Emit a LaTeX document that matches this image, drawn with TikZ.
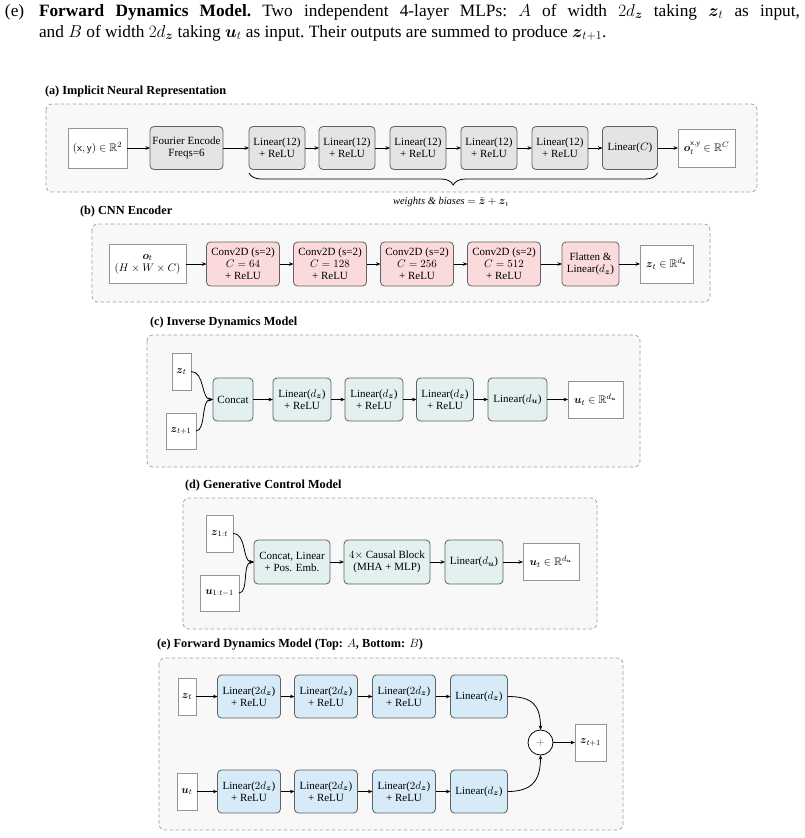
\documentclass[tikz,border=0pt]{standalone}
\usepackage{amsmath,amssymb}
\usepackage{fontspec}
\setmainfont{Liberation Serif}
\usetikzlibrary{arrows.meta,decorations.pathreplacing}
\definecolor{cgray}{HTML}{E4E4E4}
\definecolor{cpink}{HTML}{FADADB}
\definecolor{cteal}{HTML}{E3F0F0}
\definecolor{cblue}{HTML}{D6EBF7}
\definecolor{cframe}{HTML}{F8F8F8}
\newcommand\fsz{\fontsize{11}{12}\selectfont}
\newcommand\hdz{\fontsize{12.3}{14}\selectfont\bfseries}
\newcommand\cpz{\fontsize{17.3}{20}\selectfont\frenchspacing}
\newcommand\bz{\boldsymbol{z}}
\newcommand\bu{\boldsymbol{u}}
\begin{document}
\begin{tikzpicture}[x=1pt,y=-1pt,
  every node/.style={inner sep=0pt,outer sep=0pt},
  frame/.style={draw=black!38,dash pattern=on 3.5pt off 2.5pt,fill=cframe,rounded corners=6pt,line width=0.7pt},
  blk/.style={draw=black!62,rounded corners=4pt,line width=0.8pt,align=center,font=\fsz,minimum height=43},
  io/.style={draw=black!42,fill=white,line width=0.9pt,align=center,font=\fsz,minimum height=38},
  gry/.style={blk,fill=cgray},
  pnk/.style={blk,fill=cpink},
  tea/.style={blk,fill=cteal},
  blu/.style={blk,fill=cblue},
  arr/.style={-{Stealth[length=4.5pt,width=3.6pt]},line width=0.8pt},
  head/.style={anchor=west,font=\hdz}]
\useasboundingbox (0,0) rectangle (805,838);

% caption
\node[anchor=west,font=\cpz] (clab) at (5,12) {(e)};
\node[anchor=west,font=\cpz] (cl1) at (39,12) {\hbox to 761pt{\textbf{Forward Dynamics Model.} Two independent 4-layer MLPs: $A$ of width $2d_{\bz}$ taking $\bz_t$ as input,}};
\node[anchor=west,font=\cpz] (cl2) at (39,33) {and $B$ of width $2d_{\bz}$ taking $\bu_t$ as input. Their outputs are summed to produce $\bz_{t+1}$.};

% frames
\draw[frame] (46,104) rectangle (757,192);
\draw[frame] (92,224) rectangle (710,302);
\draw[frame] (147,335) rectangle (640,467);
\draw[frame] (183,498) rectangle (597,629);
\draw[frame] (159,658) rectangle (623,830);

% headings
\node[head] (ha) at (45,92) {(a) Implicit Neural Representation};
\node[head] (hb) at (80,212) {(b) CNN Encoder};
\node[head] (hc) at (150,323) {(c) Inverse Dynamics Model};
\node[head] (hd) at (185,486) {(d) Generative Control Model};
\node[head] (he) at (157,645) {(e) Forward Dynamics Model (Top: $A$, Bottom: $B$)};

% (a)
\node[io,minimum width=59,minimum height=40] (a0) at (97.5,148) {$(\mathsf{x},\mathsf{y})\in\mathbb{R}^2$};
\node[gry,minimum width=73] (a1) at (186.5,148) {Fourier Encode\\Freqs=6};
\node[gry,minimum width=56] (a2) at (277,148) {Linear(12)\\+ ReLU};
\node[gry,minimum width=56] (a3) at (347,148) {Linear(12)\\+ ReLU};
\node[gry,minimum width=56] (a4) at (418,148) {Linear(12)\\+ ReLU};
\node[gry,minimum width=56] (a5) at (489,148) {Linear(12)\\+ ReLU};
\node[gry,minimum width=56] (a6) at (560,148) {Linear(12)\\+ ReLU};
\node[gry,minimum width=55] (a7) at (630,148) {Linear($C$)};
\node[io,minimum width=57] (a8) at (706.5,148) {$\boldsymbol{o}_t^{\mathsf{x},\mathsf{y}}\in\mathbb{R}^C$};
\foreach \i/\j in {a0/a1,a1/a2,a2/a3,a3/a4,a4/a5,a5/a6,a6/a7,a7/a8} \draw[arr] (\i) -- (\j);
\coordinate (brR) at (657.5,173);
\coordinate (brL) at (249,173);
\draw[line width=0.8pt,decorate,decoration={brace,amplitude=12pt}] (brR) -- (brL);
\node[font=\fontsize{10.5}{12}\selectfont\itshape] (wb) at (451,202) {weights \& biases $=\bar{\bz}+\bz_t$};

% (b)
\node[io,minimum width=77,minimum height=39] (b0) at (147.5,264) {$\boldsymbol{o}_t$\\$(H\times W\times C)$};
\node[pnk,minimum width=73,minimum height=44] (b1) at (243,264) {Conv2D (s=2)\\$C=64$\\+ ReLU};
\node[pnk,minimum width=73,minimum height=44] (b2) at (330,264) {Conv2D (s=2)\\$C=128$\\+ ReLU};
\node[pnk,minimum width=73,minimum height=44] (b3) at (417,264) {Conv2D (s=2)\\$C=256$\\+ ReLU};
\node[pnk,minimum width=73,minimum height=44] (b4) at (504,264) {Conv2D (s=2)\\$C=512$\\+ ReLU};
\node[pnk,minimum width=57,minimum height=44] (b5) at (590.5,264) {Flatten \&\\Linear($d_{\bz}$)};
\node[io,minimum width=53] (b6) at (666.5,264) {$\bz_t\in\mathbb{R}^{d_{\bz}}$};
\foreach \i/\j in {b0/b1,b1/b2,b2/b3,b3/b4,b4/b5,b5/b6} \draw[arr] (\i) -- (\j);

% (c)
\node[io,minimum width=19,minimum height=37] (c0) at (181.5,371.5) {$\bz_t$};
\node[io,minimum width=30,minimum height=36] (c1) at (181,431) {$\bz_{t+1}$};
\node[tea,minimum width=40] (c2) at (233,399.5) {Concat};
\node[tea,minimum width=58] (c3) at (302,399.5) {Linear($d_{\bz}$)\\+ ReLU};
\node[tea,minimum width=58] (c4) at (374,399.5) {Linear($d_{\bz}$)\\+ ReLU};
\node[tea,minimum width=57] (c5) at (445,399.5) {Linear($d_{\bz}$)\\+ ReLU};
\node[tea,minimum width=59] (c6) at (517.5,399.5) {Linear($d_{\bu}$)};
\node[io,minimum width=55,minimum height=37] (c7) at (595.5,399.5) {$\bu_t\in\mathbb{R}^{d_{\bu}}$};
\draw[arr] (c0.east) .. controls +(14,0) and +(-12,0) .. (c2.west);
\draw[arr] (c1.east) .. controls +(10,0) and +(-12,0) .. (c2.west);
\foreach \i/\j in {c2/c3,c3/c4,c4/c5,c5/c6,c6/c7} \draw[arr] (\i) -- (\j);

% (d)
\node[io,minimum width=27,minimum height=37] (d0) at (219.5,533.5) {$\bz_{1:t}$};
\node[io,minimum width=39,minimum height=36] (d1) at (219.5,593) {$\bu_{1:t-1}$};
\node[tea,minimum width=76,minimum height=44] (d2) at (292,562) {Concat, Linear\\+ Pos. Emb.};
\node[tea,minimum width=86,minimum height=44] (d3) at (387,562) {$4\times$ Causal Block\\(MHA + MLP)};
\node[tea,minimum width=58,minimum height=44] (d4) at (474,562) {Linear($d_{\bu}$)};
\node[io,minimum width=56,minimum height=37] (d5) at (551,562) {$\bu_t\in\mathbb{R}^{d_{\bu}}$};
\draw[arr] (d0.east) .. controls +(14,0) and +(-12,0) .. (d2.west);
\draw[arr] (d1.east) .. controls +(10,0) and +(-12,0) .. (d2.west);
\foreach \i/\j in {d2/d3,d3/d4,d4/d5} \draw[arr] (\i) -- (\j);

% (e)
\node[io,minimum width=18,minimum height=37] (e0) at (187,696.5) {$\bz_t$};
\node[blu,minimum width=63] (e1) at (249,696.5) {Linear($2d_{\bz}$)\\+ ReLU};
\node[blu,minimum width=63] (e2) at (326,696.5) {Linear($2d_{\bz}$)\\+ ReLU};
\node[blu,minimum width=63] (e3) at (404,696.5) {Linear($2d_{\bz}$)\\+ ReLU};
\node[blu,minimum width=57] (e4) at (479,696.5) {Linear($d_{\bz}$)};
\node[io,minimum width=20,minimum height=37] (f0) at (187,791.5) {$\bu_t$};
\node[blu,minimum width=63] (f1) at (249,791.5) {Linear($2d_{\bz}$)\\+ ReLU};
\node[blu,minimum width=63] (f2) at (326,791.5) {Linear($2d_{\bz}$)\\+ ReLU};
\node[blu,minimum width=63] (f3) at (404,791.5) {Linear($2d_{\bz}$)\\+ ReLU};
\node[blu,minimum width=57] (f4) at (479,791.5) {Linear($d_{\bz}$)};
\node[circle,draw=black,line width=0.8pt,fill=white,minimum size=25,font=\fsz] (plus) at (540.5,742.5) {\textcolor{black!60}{$+$}};
\node[io,minimum width=31,minimum height=37] (e5) at (590.5,742.5) {$\bz_{t+1}$};
\foreach \i/\j in {e0/e1,e1/e2,e2/e3,e3/e4,f0/f1,f1/f2,f2/f3,f3/f4,plus/e5} \draw[arr] (\i) -- (\j);
\draw[arr] (e4.east) .. controls +(25,0) and +(0,-25) .. (plus.north);
\draw[arr] (f4.east) .. controls +(25,0) and +(0,25) .. (plus.south);
\end{tikzpicture}
\end{document}
